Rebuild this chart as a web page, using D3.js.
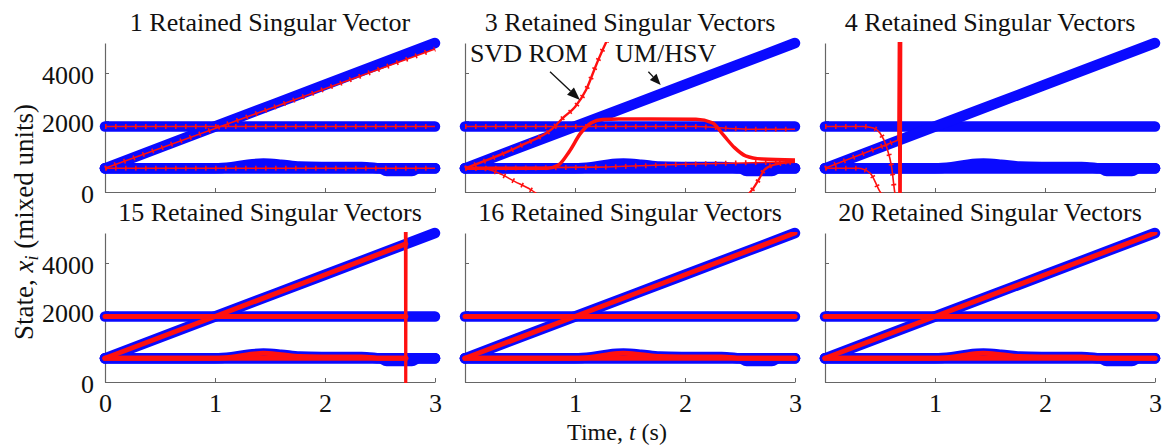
<!DOCTYPE html>
<html>
<head>
<meta charset="utf-8">
<script src="https://cdn.jsdelivr.net/npm/d3@7"></script>
<style>
  body { margin: 0; background: #fff; }
  text { font-family: "Liberation Serif", "Times New Roman", serif; fill: #111; }
</style>
</head>
<body>
<svg id="chart" width="1162" height="445"></svg>
<script>
// ---- data ----
const titles = ["1 Retained Singular Vector", "3 Retained Singular Vectors", "4 Retained Singular Vectors",
                "15 Retained Singular Vectors", "16 Retained Singular Vectors", "20 Retained Singular Vectors"];
const tTicks = [0, 1, 2, 3];
const xTicks = [0, 2000, 4000];
const yBreaks = [0, 2000, 5250];   // the printed tick labels are not evenly spaced

// UM/HSV states (identical in every panel)
const tFlat = [0, 3];
const umHigh = [1845, 1845];
const umLow = [668, 668];
const tRamp = [0, 1, 2, 3];
const umRamp = [668, 1845, 3510, 5250];
const tBump = [0, 1.0, 1.15, 1.3, 1.44, 1.6, 1.77, 2.0, 2.38, 2.5, 3];
const umBump = [668, 668, 700, 770, 800, 770, 715, 705, 700, 668, 668];
const tDip = [0, 2.5, 2.56, 2.79, 2.85, 3];
const umDip = [668, 668, 590, 590, 668, 668];

// SVD ROM, 1 vector
const r1High = [1845, 1845];
const r1Ramp = [668, 1790, 3340, 5000];
const r1Low = [668, 668];

// SVD ROM, 3 vectors
const tR3Up = [0, 0.5, 0.8, 0.9, 1.0, 1.1, 1.2, 1.28, 1.33];
const r3Up = [668, 1296, 1800, 2170, 2580, 3290, 4420, 5250, 5700];
const tR3High = [0, 2.1, 2.4, 2.7, 3];
const r3High = [1845, 1845, 1790, 1766, 1766];
const tR3Hump = [0, 0.75, 0.85, 0.95, 1.05, 1.15, 1.25, 1.4, 2.1, 2.25, 2.35, 2.45, 2.55, 2.7, 3];
const r3Hump = [668, 668, 760, 1150, 1650, 1950, 2060, 2080, 2070, 1950, 1600, 1250, 1020, 930, 900];
const tR3Low = [0, 1.2, 2, 3];
const r3Low = [668, 700, 780, 850];
const tR3Dive = [0, 0.15, 0.3, 0.45, 0.6, 0.7];
const r3Dive = [668, 668, 540, 300, 60, -150];
const tR3Rise = [2.55, 2.62, 2.68, 2.72, 2.8, 3];
const r3Rise = [-150, 100, 400, 620, 760, 850];

// SVD ROM, 4 vectors
const tR4High = [0, 0.35, 0.44, 0.5, 0.56, 0.606, 0.636, 0.66];
const r4High = [1845, 1845, 1800, 1660, 1270, 700, -40, -300];
const tR4Low = [0, 0.3, 0.41, 0.5, 0.55];
const r4Low = [668, 668, 535, 10, -200];
const tR4Ramp = [0, 0.667];
const r4Ramp = [668, 1465];
const tR4Spike = [0.667, 0.672, 0.677, 0.682, 0.687, 0.692];
const r4Spike = [1465, 5600, -600, 5600, -600, 5600];

// SVD ROM, 15 vectors
const tR15Flat = [0, 2.735];
const r15High = [1845, 1845];
const r15Low = [668, 668];
const tR15Ramp = [0, 1, 2, 2.735];
const r15Ramp = [668, 1845, 3510, 4800];
const tR15Bump = [0, 1.0, 1.15, 1.3, 1.44, 1.6, 1.77, 2.0, 2.38, 2.5, 2.735];
const r15Bump = [668, 668, 700, 770, 810, 770, 715, 705, 700, 668, 668];
const tR15Spike = [2.728, 2.731, 2.734, 2.737, 2.74];
const r15Spike = [5600, -600, 5600, -600, 5600];

// SVD ROM, 16 and 20 vectors (on top of UM/HSV)
const r16High = [1845, 1845];
const r16Ramp = [668, 1845, 3510, 5250];
const r16Low = [668, 668];
const r16Bump = [668, 668, 700, 770, 810, 770, 715, 705, 700, 668, 668];

// ---- layout ----
const panelW = 330, panelH = 149;
const colX = [105, 465, 825], rowY = [43, 233];
const blue = "#0a0aff", red = "#ff1010";

const zip = (ts, vs) => ts.map((t, i) => [t, vs[i]]);

const umSeries = [zip(tFlat, umHigh), zip(tFlat, umLow), zip(tBump, umBump), zip(tDip, umDip), zip(tRamp, umRamp)];

const panels = [
  { red: [
      { d: zip(tFlat, r1High), s: "mk" }, { d: zip(tRamp, r1Ramp), s: "mk" }, { d: zip(tFlat, r1Low), s: "mk" } ] },
  { red: [
      { d: zip(tR3High, r3High), s: "mk", c: true }, { d: zip(tR3Low, r3Low), s: "mk", c: true },
      { d: zip(tR3Hump, r3Hump), s: "band", c: true }, { d: zip(tR3Up, r3Up), s: "mk", w: 2.4, c: true },
      { d: zip(tR3Dive, r3Dive), s: "mk", c: true }, { d: zip(tR3Rise, r3Rise), s: "mk", w: 2.2, c: true } ] },
  { red: [
      { d: zip(tR4High, r4High), s: "mk", c: true }, { d: zip(tR4Low, r4Low), s: "mk", c: true },
      { d: zip(tR4Ramp, r4Ramp), s: "mk" }, { d: zip(tR4Spike, r4Spike), s: "spike" } ] },
  { red: [
      { d: zip(tR15Flat, r15High), s: "thick" }, { d: zip(tR15Flat, r15Low), s: "thick" },
      { d: zip(tR15Bump, r15Bump), s: "thick", c: true }, { d: zip(tR15Ramp, r15Ramp), s: "thick" },
      { d: zip(tR15Spike, r15Spike), s: "spike" } ] },
  { red: [
      { d: zip(tFlat, r16High), s: "thick" }, { d: zip(tFlat, r16Low), s: "thick" },
      { d: zip(tBump, r16Bump), s: "thick", c: true }, { d: zip(tRamp, r16Ramp), s: "thick" } ] },
  { red: [
      { d: zip(tFlat, r16High), s: "thick" }, { d: zip(tFlat, r16Low), s: "thick" },
      { d: zip(tBump, r16Bump), s: "thick", c: true }, { d: zip(tRamp, r16Ramp), s: "thick" } ] }
];

const svg = d3.select("#chart");

const x = d3.scaleLinear().domain([0, 3]).range([0, panelW]);
const y = d3.scaleLinear().domain(yBreaks).range([panelH, panelH * 0.5235, 0]);

const lineLin = d3.line().x(d => x(d[0])).y(d => y(d[1]));
const lineSmooth = d3.line().x(d => x(d[0])).y(d => y(d[1])).curve(d3.curveMonotoneX);

panels.forEach((p, i) => {
  const row = Math.floor(i / 3), col = i % 3;
  const g = svg.append("g").attr("transform", `translate(${colX[col]},${rowY[row]})`);

  // title
  svg.append("text")
    .attr("x", colX[col] + panelW / 2).attr("y", rowY[row] - 12)
    .attr("text-anchor", "middle").attr("font-size", 26)
    .text(titles[i]);

  // axes
  const ax = g.append("g").attr("transform", `translate(0,${panelH})`)
    .call(d3.axisBottom(x).tickValues(tTicks).tickSizeInner(-4).tickSizeOuter(0).tickPadding(12)
      .tickFormat(d => (row === 1 && (col === 0 || d !== 0)) ? d : ""));
  const ay = g.append("g")
    .call(d3.axisLeft(y).tickValues(xTicks).tickSizeInner(-4).tickSizeOuter(0).tickPadding(11)
      .tickFormat(d => col === 0 ? d : ""));
  [ax, ay].forEach(a => {
    a.attr("font-size", 26).attr("font-family", null).attr("color", "#666");
    a.select(".domain").attr("stroke-width", 1.2);
  });
  ay.selectAll("text").attr("dy", "0.42em");

  // UM/HSV
  g.append("g").selectAll("path").data(umSeries).join("path")
    .attr("d", d => lineSmooth(d))
    .attr("fill", "none").attr("stroke", blue).attr("stroke-width", 10.5)
    .attr("stroke-linecap", "round").attr("stroke-linejoin", "round");

  // SVD ROM, clipped to the axes box
  const clipId = "clip" + i;
  g.append("clipPath").attr("id", clipId).append("rect")
    .attr("x", -12).attr("y", -1).attr("width", panelW + 24).attr("height", panelH + 2);
  const rg = g.append("g").attr("clip-path", `url(#${clipId})`);

  p.red.forEach(r => {
    const dStr = (r.c ? lineSmooth : lineLin)(r.d);
    const base = rg.append("path").attr("d", dStr).attr("fill", "none").attr("stroke", red)
      .attr("stroke-linejoin", "round");
    if (r.s === "thick") {
      base.attr("stroke-width", 5).attr("stroke-linecap", "round");
    } else if (r.s === "band") {
      base.attr("stroke-width", 3.5);
    } else if (r.s === "spike") {
      base.attr("stroke-width", 2.5);
    } else {
      base.attr("stroke-width", r.w || 1.6);
      rg.append("path").attr("d", dStr).attr("fill", "none").attr("stroke", red)
        .attr("stroke-width", 5).attr("stroke-dasharray", "1.6 8.4");
    }
  });
});

// annotations in the 3-vector panel
const ann = svg.append("g").attr("transform", `translate(${colX[1]},${rowY[0]})`);
ann.append("text").attr("x", x(0.045)).attr("y", y(4470)).attr("font-size", 26).text("SVD ROM");
ann.append("text").attr("x", x(1.364)).attr("y", y(4470)).attr("font-size", 26).text("UM/HSV");

function arrow(t0, v0, t1, v1, len, half) {
  const x0 = x(t0), y0 = y(v0), x1 = x(t1), y1 = y(v1);
  const a = Math.atan2(y1 - y0, x1 - x0);
  const bx = x1 - len * Math.cos(a), by = y1 - len * Math.sin(a);
  ann.append("line").attr("x1", x0).attr("y1", y0).attr("x2", bx).attr("y2", by)
    .attr("stroke", "#111").attr("stroke-width", 1.3);
  const px = -Math.sin(a) * half, py = Math.cos(a) * half;
  ann.append("path")
    .attr("d", `M${x1},${y1}L${bx + px},${by + py}L${bx - px},${by - py}Z`)
    .attr("fill", "#111");
}
arrow(0.773, 4054, 1.045, 2875, 13, 5);
arrow(1.667, 4054, 1.779, 3500, 11, 4.5);

// axis labels
const yl = svg.append("text").attr("transform", "translate(33,222) rotate(-90)")
  .attr("text-anchor", "middle").attr("font-size", 27);
yl.append("tspan").text("State, ");
yl.append("tspan").attr("font-style", "italic").text("x");
yl.append("tspan").attr("font-style", "italic").attr("font-size", 18).attr("dy", 5).text("i");
yl.append("tspan").attr("dy", -5).text(" (mixed units)");

const xl = svg.append("text").attr("x", 617).attr("y", 439.5)
  .attr("text-anchor", "middle").attr("font-size", 24);
xl.append("tspan").text("Time, ");
xl.append("tspan").attr("font-style", "italic").text("t");
xl.append("tspan").text(" (s)");
</script>
</body>
</html>
